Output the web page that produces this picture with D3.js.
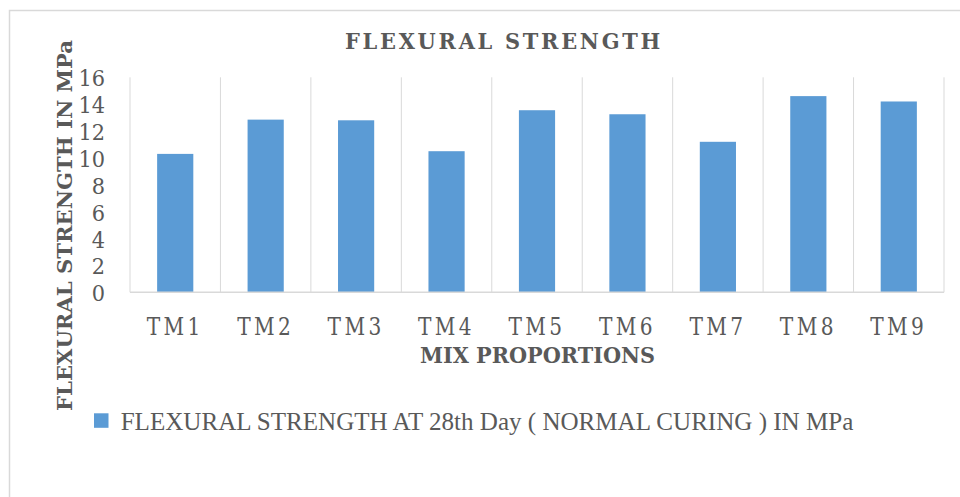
<!DOCTYPE html>
<html>
<head>
<meta charset="utf-8">
<script src="https://cdn.jsdelivr.net/npm/d3@7/dist/d3.min.js"></script>
<style>
  html, body { margin: 0; padding: 0; background: #ffffff; }
  svg { display: block; }
  text { font-family: "DejaVu Serif", "Liberation Serif", serif; fill: #595959; }
</style>
</head>
<body>
<svg id="chart" width="960" height="497"></svg>
<script>
// Mix proportions and their 28th-day flexural strength (MPa)
const categories = ["TM1", "TM2", "TM3", "TM4", "TM5", "TM6", "TM7", "TM8", "TM9"];
const strengthValues = [10.3, 12.85, 12.8, 10.5, 13.55, 13.25, 11.2, 14.6, 14.2];
const yTicks = [0, 2, 4, 6, 8, 10, 12, 14, 16];
const chartTitle = "FLEXURAL STRENGTH";
const yAxisTitle = "FLEXURAL STRENGTH IN MPa";
const xAxisTitle = "MIX PROPORTIONS";
const seriesName = "FLEXURAL STRENGTH AT 28th Day ( NORMAL CURING ) IN MPa";

const svg = d3.select("#chart");
const plot = { left: 130, right: 944, top: 77.3, bottom: 292.3 };
const barColor = "#5B9BD5";
const gridColor = "#d9d9d9";

// Outer chart frame
svg.append("rect")
  .attr("x", 9.5).attr("y", 10.5)
  .attr("width", 1000).attr("height", 600)
  .attr("fill", "none").attr("stroke", gridColor).attr("stroke-width", 1.5);

const xBand = d3.scaleBand().domain(categories).range([plot.left, plot.right]).padding(0);
const xBar = d3.scaleBand().domain(categories).range([plot.left, plot.right])
  .paddingInner(0.6).paddingOuter(0.3);
const y = d3.scaleLinear().domain([0, 16]).range([plot.bottom, plot.top]);

// Category separators (vertical gridlines)
const bounds = categories.map(c => xBand(c)).concat([plot.right]);
svg.append("g").selectAll("line").data(bounds).join("line")
  .attr("x1", d => d).attr("x2", d => d)
  .attr("y1", y(16)).attr("y2", y(0))
  .attr("stroke", gridColor).attr("stroke-width", 1);

// Bars
svg.append("g").selectAll("rect").data(strengthValues).join("rect")
  .attr("x", (d, i) => xBar(categories[i]))
  .attr("width", xBar.bandwidth())
  .attr("y", d => y(d))
  .attr("height", d => y(0) - y(d))
  .attr("fill", barColor);

// Horizontal axis line
svg.append("line")
  .attr("x1", plot.left).attr("x2", plot.right)
  .attr("y1", y(0)).attr("y2", y(0))
  .attr("stroke", gridColor).attr("stroke-width", 1.5);

// Y axis tick labels
const yAxis = d3.axisLeft(y).tickValues(yTicks).tickSize(0).tickPadding(0);
const yg = svg.append("g").attr("transform", "translate(105,0)").call(yAxis);
yg.select(".domain").remove();
yg.selectAll("text")
  .attr("x", 0).attr("dy", null).attr("y", 8.5)
  .attr("text-anchor", "end")
  .style("font-family", "'DejaVu Serif', serif")
  .style("font-size", "23px")
  .attr("fill", "#595959")
  .each(function (d) {
    this.setAttribute("textLength", String(d).length * 13.3);
    this.setAttribute("lengthAdjust", "spacingAndGlyphs");
  });

// X axis category labels
const xAxis = d3.axisBottom(xBand).tickSize(0).tickPadding(0);
const xg = svg.append("g").call(xAxis);
xg.select(".domain").remove();
xg.selectAll("text")
  .attr("y", 335).attr("dy", null)
  .attr("text-anchor", "middle")
  .style("font-family", "'DejaVu Serif', serif")
  .style("font-size", "24px")
  .style("letter-spacing", "4px")
  .attr("fill", "#595959")
  .attr("textLength", 57)
  .attr("lengthAdjust", "spacingAndGlyphs");

// Chart title
svg.append("text")
  .attr("x", 504).attr("y", 49.3)
  .attr("text-anchor", "middle")
  .style("font-size", "23px").style("font-weight", "bold")
  .style("letter-spacing", "3px")
  .attr("textLength", 318).attr("lengthAdjust", "spacingAndGlyphs")
  .text(chartTitle);

// Y axis title
svg.append("text")
  .attr("transform", "translate(72,225.5) rotate(-90)")
  .attr("text-anchor", "middle")
  .style("font-size", "21px").style("font-weight", "bold")
  .attr("textLength", 371).attr("lengthAdjust", "spacingAndGlyphs")
  .text(yAxisTitle);

// X axis title
svg.append("text")
  .attr("x", 537.5).attr("y", 363.3)
  .attr("text-anchor", "middle")
  .style("font-size", "23px").style("font-weight", "bold")
  .attr("textLength", 235).attr("lengthAdjust", "spacingAndGlyphs")
  .text(xAxisTitle);

// Legend
const legend = svg.append("g");
legend.append("rect")
  .attr("x", 94).attr("y", 413.3).attr("width", 14.5).attr("height", 14.5)
  .attr("fill", barColor);
legend.append("text")
  .attr("x", 120.7).attr("y", 430)
  .style("font-family", "'Liberation Serif', serif")
  .style("font-size", "26px")
  .attr("textLength", 732.6).attr("lengthAdjust", "spacingAndGlyphs")
  .text(seriesName);
</script>
</body>
</html>
